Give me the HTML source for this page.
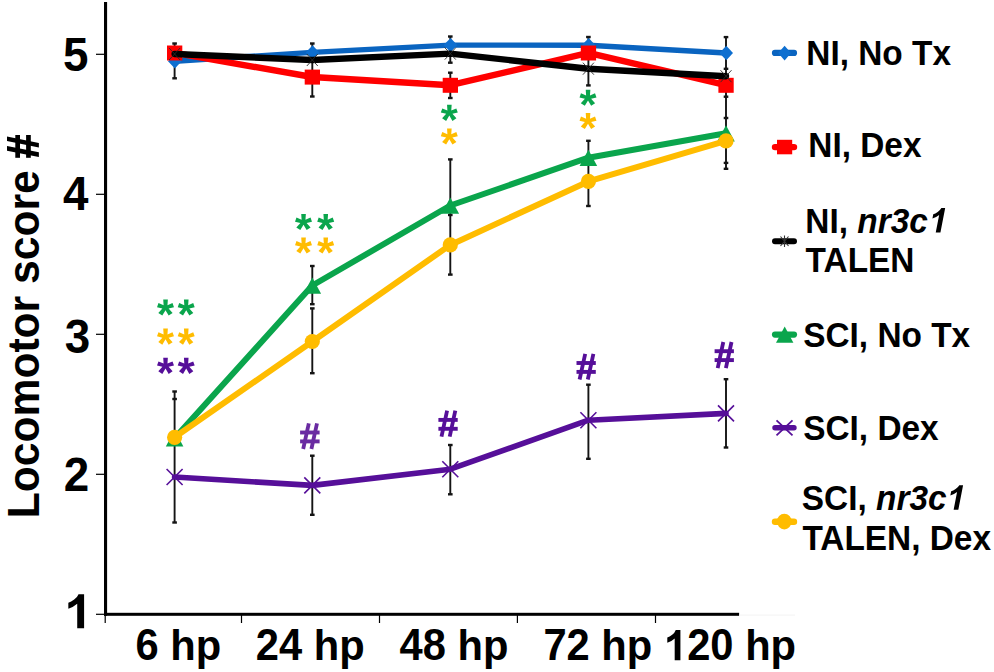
<!DOCTYPE html>
<html><head><meta charset="utf-8"><title>Locomotor score</title>
<style>
html,body{margin:0;padding:0;background:#fff;}
body{width:994px;height:672px;overflow:hidden;font-family:"Liberation Sans",sans-serif;}
svg{display:block;}
text{font-family:"Liberation Sans",sans-serif;font-weight:bold;fill:#000;}
.eb{stroke:#141414;stroke-width:1.9;fill:none;}
.cap{stroke:#141414;stroke-width:2.4;fill:none;}
</style></head><body>
<svg width="994" height="672" viewBox="0 0 994 672">
<rect width="994" height="672" fill="#fff"/>

<rect x="104.0" y="2" width="3.1" height="613.8" fill="#000"/>
<rect x="104.0" y="612.8" width="635.1" height="3.0" fill="#000"/><rect x="739" y="614.6" width="56" height="1" fill="#f3f3f3"/>
<rect x="96" y="53.7" width="9" height="1.2" fill="#000"/>
<rect x="96" y="193.7" width="9" height="1.2" fill="#000"/>
<rect x="96" y="333.7" width="9" height="1.2" fill="#000"/>
<rect x="96" y="473.7" width="9" height="1.2" fill="#000"/>
<rect x="96" y="613.7" width="9" height="1.2" fill="#000"/>
<rect x="104.6" y="614" width="1.2" height="9" fill="#000"/>
<rect x="240.9" y="614" width="1.2" height="9" fill="#000"/>
<rect x="378.9" y="614" width="1.2" height="9" fill="#000"/>
<rect x="516.8" y="614" width="1.2" height="9" fill="#000"/>
<rect x="654.9" y="614" width="1.2" height="9" fill="#000"/>
<text transform="translate(88.4,71.3) scale(0.995,1.035)" font-size="46" text-anchor="end">5</text>
<text transform="translate(88.5,210.0) scale(0.995,1.035)" font-size="46" text-anchor="end">4</text>
<text transform="translate(90.3,353.1) scale(0.995,1.035)" font-size="46" text-anchor="end">3</text>
<text transform="translate(89.3,491.0) scale(0.995,1.035)" font-size="46" text-anchor="end">2</text>
<path transform="translate(64.37,628.20) scale(0.02448,-0.02310)" d="M806,0H525V1059Q371,915 162,846V1101Q272,1137 401,1237.5Q530,1338 578,1472H806Z" fill="#000"/>
<text transform="translate(135.5,660.2) scale(1.0,1.065)" font-size="41.7">6</text>
<text transform="translate(170.28,660.2) scale(1.0,1.0)" font-size="41.7">hp</text>
<text transform="translate(255.7,660.2) scale(1.0,1.065)" font-size="41.7">24</text>
<text transform="translate(313.67,660.2) scale(1.0,1.0)" font-size="41.7">hp</text>
<text transform="translate(399.6,660.2) scale(1.0,1.065)" font-size="41.7">48</text>
<text transform="translate(457.57,660.2) scale(1.0,1.0)" font-size="41.7">hp</text>
<text transform="translate(543.4,660.2) scale(1.0,1.065)" font-size="41.7">72</text>
<text transform="translate(601.37,660.2) scale(1.0,1.0)" font-size="41.7">hp</text>
<text transform="translate(664.0,660.2) scale(1.0,1.065)" font-size="41.7"><tspan style="fill:none">1</tspan>20</text>
<text transform="translate(745.16,660.2) scale(1.0,1.0)" font-size="41.7">hp</text>
<path transform="translate(664.00,660.20) scale(0.02036,-0.02056)" d="M806,0H525V1059Q371,915 162,846V1101Q272,1137 401,1237.5Q530,1338 578,1472H806Z" fill="#000"/>
<text transform="translate(38.5,518.2) rotate(-90) scale(1,1.02)" font-size="42.6">Locomotor score</text>
<g fill="#000"><rect x="15.3" y="135.0" width="4.7" height="22.8"/><rect x="26.1" y="135.0" width="4.7" height="22.8"/><polygon points="7.0,136.4 7.0,141.1 38.85,147.5 38.85,143.0"/><polygon points="7.0,145.9 7.0,150.7 38.85,156.9 38.85,152.2"/></g>
<line class="eb" x1="174.6" y1="43.5" x2="174.6" y2="78.3"/>
<line class="cap" x1="172.3" y1="43.5" x2="176.9" y2="43.5"/>
<line class="cap" x1="172.3" y1="78.3" x2="176.9" y2="78.3"/>
<line class="eb" x1="312.3" y1="43.5" x2="312.3" y2="96.5"/>
<line class="cap" x1="310.0" y1="43.5" x2="314.6" y2="43.5"/>
<line class="cap" x1="310.0" y1="96.5" x2="314.6" y2="96.5"/>
<line class="eb" x1="450.3" y1="36.5" x2="450.3" y2="62.7"/>
<line class="cap" x1="448.0" y1="36.5" x2="452.6" y2="36.5"/>
<line class="cap" x1="448.0" y1="62.7" x2="452.6" y2="62.7"/>
<line class="eb" x1="450.3" y1="72.7" x2="450.3" y2="98"/>
<line class="cap" x1="448.0" y1="72.7" x2="452.6" y2="72.7"/>
<line class="cap" x1="448.0" y1="98" x2="452.6" y2="98"/>
<line class="eb" x1="588.4" y1="37" x2="588.4" y2="85.4"/>
<line class="cap" x1="586.1" y1="37" x2="590.7" y2="37"/>
<line class="cap" x1="586.1" y1="85.4" x2="590.7" y2="85.4"/>
<line class="eb" x1="726.0" y1="37.1" x2="726.0" y2="168.8"/>
<line class="cap" x1="723.7" y1="37.1" x2="728.3" y2="37.1"/>
<line class="cap" x1="723.7" y1="168.8" x2="728.3" y2="168.8"/>
<line class="cap" x1="723.7" y1="68.8" x2="728.3" y2="68.8"/>
<line class="cap" x1="723.7" y1="96.7" x2="728.3" y2="96.7"/>
<line class="cap" x1="723.7" y1="118" x2="728.3" y2="118"/>
<line class="cap" x1="723.7" y1="162.9" x2="728.3" y2="162.9"/>
<line class="eb" x1="174.6" y1="391.5" x2="174.6" y2="522.5"/>
<line class="cap" x1="172.3" y1="391.5" x2="176.9" y2="391.5"/>
<line class="cap" x1="172.3" y1="522.5" x2="176.9" y2="522.5"/>
<line class="cap" x1="172.3" y1="399" x2="176.9" y2="399"/>
<line class="eb" x1="312.3" y1="266" x2="312.3" y2="304.2"/>
<line class="cap" x1="310.0" y1="266" x2="314.6" y2="266"/>
<line class="cap" x1="310.0" y1="304.2" x2="314.6" y2="304.2"/>
<line class="eb" x1="312.3" y1="308.4" x2="312.3" y2="373.2"/>
<line class="cap" x1="310.0" y1="308.4" x2="314.6" y2="308.4"/>
<line class="cap" x1="310.0" y1="373.2" x2="314.6" y2="373.2"/>
<line class="eb" x1="312.3" y1="455.7" x2="312.3" y2="514.8"/>
<line class="cap" x1="310.0" y1="455.7" x2="314.6" y2="455.7"/>
<line class="cap" x1="310.0" y1="514.8" x2="314.6" y2="514.8"/>
<line class="eb" x1="450.3" y1="159.4" x2="450.3" y2="274.6"/>
<line class="cap" x1="448.0" y1="159.4" x2="452.6" y2="159.4"/>
<line class="cap" x1="448.0" y1="274.6" x2="452.6" y2="274.6"/>
<line class="cap" x1="448.0" y1="215" x2="452.6" y2="215"/>
<line class="eb" x1="450.3" y1="445" x2="450.3" y2="494.3"/>
<line class="cap" x1="448.0" y1="445" x2="452.6" y2="445"/>
<line class="cap" x1="448.0" y1="494.3" x2="452.6" y2="494.3"/>
<line class="eb" x1="588.4" y1="140.8" x2="588.4" y2="206"/>
<line class="cap" x1="586.1" y1="140.8" x2="590.7" y2="140.8"/>
<line class="cap" x1="586.1" y1="206" x2="590.7" y2="206"/>
<line class="eb" x1="588.4" y1="384.7" x2="588.4" y2="458.8"/>
<line class="cap" x1="586.1" y1="384.7" x2="590.7" y2="384.7"/>
<line class="cap" x1="586.1" y1="458.8" x2="590.7" y2="458.8"/>
<line class="eb" x1="726.0" y1="379.2" x2="726.0" y2="447.5"/>
<line class="cap" x1="723.7" y1="379.2" x2="728.3" y2="379.2"/>
<line class="cap" x1="723.7" y1="447.5" x2="728.3" y2="447.5"/>
<polyline points="174.6,61.3 312.3,52.4 450.3,45.1 588.4,45.2 726.0,53.0" fill="none" stroke="#0A64C0" stroke-width="5.4" stroke-linejoin="round" stroke-linecap="round"/>
<polygon points="168.0,61.3 174.9,54.1 181.6,61.3 174.9,68.5" fill="#0E6FD0"/>
<polygon points="305.7,52.4 312.6,45.2 319.3,52.4 312.6,59.6" fill="#0E6FD0"/>
<polygon points="443.7,45.1 450.6,37.9 457.3,45.1 450.6,52.3" fill="#0E6FD0"/>
<polygon points="581.8,45.2 588.7,38.0 595.4,45.2 588.7,52.4" fill="#0E6FD0"/>
<polygon points="719.4,53.0 726.3,45.8 733.0,53.0 726.3,60.2" fill="#0E6FD0"/>
<polyline points="174.6,52.9 312.3,77.0 450.3,85.2 588.4,52.9 726.0,85.2" fill="none" stroke="#FF0000" stroke-width="6.4" stroke-linejoin="round" stroke-linecap="round"/>
<rect x="167.0" y="45.5" width="15.3" height="15.0" fill="#FF0000"/>
<rect x="304.7" y="69.6" width="15.3" height="15.0" fill="#FF0000"/>
<rect x="442.7" y="77.8" width="15.3" height="15.0" fill="#FF0000"/>
<rect x="580.8" y="45.5" width="15.3" height="15.0" fill="#FF0000"/>
<rect x="718.4" y="77.8" width="15.3" height="15.0" fill="#FF0000"/>
<polyline points="174.6,54.0 312.3,60.0 450.3,53.6 588.4,68.7 726.0,76.2" fill="none" stroke="#000000" stroke-width="6.4" stroke-linejoin="round" stroke-linecap="round"/>
<path d="M169.1,48.0L180.1,60.0M169.1,60.0L180.1,48.0" stroke="#2a2a2a" stroke-width="0.9" fill="none"/>
<path d="M306.8,54.0L317.8,66.0M306.8,66.0L317.8,54.0" stroke="#2a2a2a" stroke-width="0.9" fill="none"/>
<path d="M444.8,47.6L455.8,59.6M444.8,59.6L455.8,47.6" stroke="#2a2a2a" stroke-width="0.9" fill="none"/>
<path d="M582.9,62.7L593.9,74.7M582.9,74.7L593.9,62.7" stroke="#2a2a2a" stroke-width="0.9" fill="none"/>
<path d="M720.5,70.2L731.5,82.2M720.5,82.2L731.5,70.2" stroke="#2a2a2a" stroke-width="0.9" fill="none"/>
<polyline points="174.6,438.3 312.3,285.5 450.3,205.5 588.4,157.7 726.0,133.2" fill="none" stroke="#0AA54C" stroke-width="6" stroke-linejoin="round" stroke-linecap="round"/>
<polygon points="165.8,446.5 174.6,430.3 183.4,446.5" fill="#0AA54C"/>
<polygon points="303.5,293.7 312.3,277.5 321.1,293.7" fill="#0AA54C"/>
<polygon points="441.5,213.7 450.3,197.5 459.1,213.7" fill="#0AA54C"/>
<polygon points="579.6,165.9 588.4,149.7 597.2,165.9" fill="#0AA54C"/>
<polygon points="717.2,141.4 726.0,125.2 734.8,141.4" fill="#0AA54C"/>
<polyline points="174.6,477.0 312.3,485.4 450.3,469.2 588.4,420.2 726.0,413.4" fill="none" stroke="#560F99" stroke-width="5.6" stroke-linejoin="round" stroke-linecap="round"/>
<path d="M166.6,469.0L182.6,485.0M166.6,485.0L182.6,469.0" stroke="#560F99" stroke-width="1.6" fill="none"/>
<path d="M304.3,477.4L320.3,493.4M304.3,493.4L320.3,477.4" stroke="#560F99" stroke-width="1.6" fill="none"/>
<path d="M442.3,461.2L458.3,477.2M442.3,477.2L458.3,461.2" stroke="#560F99" stroke-width="1.6" fill="none"/>
<path d="M580.4,412.2L596.4,428.2M580.4,428.2L596.4,412.2" stroke="#560F99" stroke-width="1.6" fill="none"/>
<path d="M718.0,405.4L734.0,421.4M718.0,421.4L734.0,405.4" stroke="#560F99" stroke-width="1.6" fill="none"/>
<polyline points="174.6,437.3 312.3,341.5 450.3,244.9 588.4,181.4 726.0,140.8" fill="none" stroke="#FFBC00" stroke-width="6" stroke-linejoin="round" stroke-linecap="round"/>
<circle cx="174.6" cy="437.3" r="7.6" fill="#FFBC00"/>
<circle cx="312.3" cy="341.5" r="7.6" fill="#FFBC00"/>
<circle cx="450.3" cy="244.9" r="7.6" fill="#FFBC00"/>
<circle cx="588.4" cy="181.4" r="7.6" fill="#FFBC00"/>
<circle cx="726.0" cy="140.8" r="7.6" fill="#FFBC00"/>
<path d="M492 1135 727 1239 795 1042 545 981 731 768 547 647 401 899 252 647 66 770 256 981 6 1042 74 1239 313 1135 295 1409H510Z" transform="translate(156.89,329.23) scale(0.0215,-0.0211)" fill="#0AA54C"/>
<path d="M492 1135 727 1239 795 1042 545 981 731 768 547 647 401 899 252 647 66 770 256 981 6 1042 74 1239 313 1135 295 1409H510Z" transform="translate(177.59,329.23) scale(0.0215,-0.0211)" fill="#0AA54C"/>
<path d="M492 1135 727 1239 795 1042 545 981 731 768 547 647 401 899 252 647 66 770 256 981 6 1042 74 1239 313 1135 295 1409H510Z" transform="translate(156.89,358.33) scale(0.0215,-0.0211)" fill="#FFBC00"/>
<path d="M492 1135 727 1239 795 1042 545 981 731 768 547 647 401 899 252 647 66 770 256 981 6 1042 74 1239 313 1135 295 1409H510Z" transform="translate(177.59,358.33) scale(0.0215,-0.0211)" fill="#FFBC00"/>
<path d="M492 1135 727 1239 795 1042 545 981 731 768 547 647 401 899 252 647 66 770 256 981 6 1042 74 1239 313 1135 295 1409H510Z" transform="translate(156.89,387.53) scale(0.0215,-0.0211)" fill="#560F99"/>
<path d="M492 1135 727 1239 795 1042 545 981 731 768 547 647 401 899 252 647 66 770 256 981 6 1042 74 1239 313 1135 295 1409H510Z" transform="translate(177.59,387.53) scale(0.0215,-0.0211)" fill="#560F99"/>
<path d="M492 1135 727 1239 795 1042 545 981 731 768 547 647 401 899 252 647 66 770 256 981 6 1042 74 1239 313 1135 295 1409H510Z" transform="translate(294.89,243.73) scale(0.0215,-0.0211)" fill="#0AA54C"/>
<path d="M492 1135 727 1239 795 1042 545 981 731 768 547 647 401 899 252 647 66 770 256 981 6 1042 74 1239 313 1135 295 1409H510Z" transform="translate(317.09,243.73) scale(0.0215,-0.0211)" fill="#0AA54C"/>
<path d="M492 1135 727 1239 795 1042 545 981 731 768 547 647 401 899 252 647 66 770 256 981 6 1042 74 1239 313 1135 295 1409H510Z" transform="translate(294.89,267.13) scale(0.0215,-0.0211)" fill="#FFBC00"/>
<path d="M492 1135 727 1239 795 1042 545 981 731 768 547 647 401 899 252 647 66 770 256 981 6 1042 74 1239 313 1135 295 1409H510Z" transform="translate(317.09,267.13) scale(0.0215,-0.0211)" fill="#FFBC00"/>
<path d="M492 1135 727 1239 795 1042 545 981 731 768 547 647 401 899 252 647 66 770 256 981 6 1042 74 1239 313 1135 295 1409H510Z" transform="translate(440.69,134.53) scale(0.0215,-0.0211)" fill="#0AA54C"/>
<path d="M492 1135 727 1239 795 1042 545 981 731 768 547 647 401 899 252 647 66 770 256 981 6 1042 74 1239 313 1135 295 1409H510Z" transform="translate(440.69,158.23) scale(0.0215,-0.0211)" fill="#FFBC00"/>
<path d="M492 1135 727 1239 795 1042 545 981 731 768 547 647 401 899 252 647 66 770 256 981 6 1042 74 1239 313 1135 295 1409H510Z" transform="translate(579.39,119.43) scale(0.0215,-0.0211)" fill="#0AA54C"/>
<path d="M492 1135 727 1239 795 1042 545 981 731 768 547 647 401 899 252 647 66 770 256 981 6 1042 74 1239 313 1135 295 1409H510Z" transform="translate(579.39,142.63) scale(0.0215,-0.0211)" fill="#FFBC00"/>
<g stroke="#6A2BA2" stroke-width="3.9" fill="none"><line x1="308.8" y1="423.3" x2="303.2" y2="449.0" stroke-width="3.8"/><line x1="317.0" y1="423.3" x2="311.4" y2="449.0" stroke-width="3.8"/><line x1="300.1" y1="432.5" x2="319.6" y2="432.5"/><line x1="300.1" y1="441.4" x2="319.6" y2="441.4"/></g>
<g stroke="#560F99" stroke-width="3.9" fill="none"><line x1="447.1" y1="410.7" x2="441.5" y2="436.7" stroke-width="3.8"/><line x1="455.3" y1="410.7" x2="449.7" y2="436.7" stroke-width="3.8"/><line x1="438.4" y1="419.9" x2="457.7" y2="419.9"/><line x1="438.4" y1="428.8" x2="457.7" y2="428.8"/></g>
<g stroke="#560F99" stroke-width="3.9" fill="none"><line x1="585.2" y1="353.8" x2="579.6" y2="379.5" stroke-width="3.8"/><line x1="593.4" y1="353.8" x2="587.8" y2="379.5" stroke-width="3.8"/><line x1="576.5" y1="363.0" x2="595.8" y2="363.0"/><line x1="576.5" y1="371.9" x2="595.8" y2="371.9"/></g>
<g stroke="#560F99" stroke-width="3.9" fill="none"><line x1="723.3" y1="342.0" x2="717.7" y2="368.1" stroke-width="3.8"/><line x1="731.5" y1="342.0" x2="725.9" y2="368.1" stroke-width="3.8"/><line x1="714.6" y1="351.2" x2="733.9" y2="351.2"/><line x1="714.6" y1="360.1" x2="733.9" y2="360.1"/></g>
<line x1="775" y1="52.9" x2="794" y2="52.9" stroke="#0A64C0" stroke-width="6.2" stroke-linecap="round"/>
<polygon points="778.2,52.9 784.6,45.8 791,52.9 784.6,60.6" fill="#0E6FD0"/>
<text transform="translate(806.3,65.2) scale(1.0,1.03)" font-size="33.4">NI, No Tx</text>
<line x1="775" y1="147.1" x2="794" y2="147.1" stroke="#FF0000" stroke-width="6.4" stroke-linecap="round"/>
<rect x="777" y="139.8" width="15.2" height="14.5" fill="#FF0000"/>
<text transform="translate(808.3,156.7) scale(1.0,1.03)" font-size="33.4">NI, Dex</text>
<line x1="775" y1="241.3" x2="794" y2="241.3" stroke="#000000" stroke-width="6.0" stroke-linecap="round"/>
<path d="M780.5,236.5L788.5,246M780.5,246L788.5,236.5M784.5,235.5V247" stroke="#333" stroke-width="1.1" fill="none"/>
<text transform="translate(805.3,232.6) scale(1.0,1.03)" font-size="33.4">NI, <tspan font-style="italic">nr3c<tspan style="fill:none">1</tspan></tspan></text>
<path transform="translate(927.00,232.60) skewX(-11) scale(0.01665,-0.01665)" d="M806,0H525V1059Q371,915 162,846V1101Q272,1137 401,1237.5Q530,1338 578,1472H806Z" fill="#000"/>
<text transform="translate(805.6,272.4) scale(1.0,1.03)" font-size="33.4">TALEN</text>
<line x1="775" y1="334.6" x2="794" y2="334.6" stroke="#0AA54C" stroke-width="6.2" stroke-linecap="round"/>
<polygon points="776,342.8 784.7,326.4 793.4,342.8" fill="#0AA54C"/>
<text transform="translate(803.2,346.5) scale(1.0,1.03)" font-size="33.4">SCI, No Tx</text>
<line x1="775" y1="427.8" x2="794" y2="427.8" stroke="#560F99" stroke-width="5.4" stroke-linecap="round"/>
<path d="M776.5,420.4L792.5,435.4M776.5,435.4L792.5,420.4" stroke="#560F99" stroke-width="1.8" fill="none"/>
<text transform="translate(803.2,439.9) scale(1.0,1.03)" font-size="33.4">SCI, Dex</text>
<line x1="775" y1="521.7" x2="794" y2="521.7" stroke="#FFBC00" stroke-width="6.4" stroke-linecap="round"/>
<ellipse cx="784.3" cy="521.6" rx="7.4" ry="7.8" fill="#FFBC00"/>
<text transform="translate(801.8,509.8) scale(1.0,1.03)" font-size="33.4">SCI, <tspan font-style="italic">nr3c<tspan style="fill:none">1</tspan></tspan></text>
<path transform="translate(944.90,509.70) skewX(-11) scale(0.01665,-0.01665)" d="M806,0H525V1059Q371,915 162,846V1101Q272,1137 401,1237.5Q530,1338 578,1472H806Z" fill="#000"/>
<text transform="translate(802.4,549.6) scale(1.0,1.03)" font-size="33.4">TALEN, Dex</text>
</svg></body></html>
